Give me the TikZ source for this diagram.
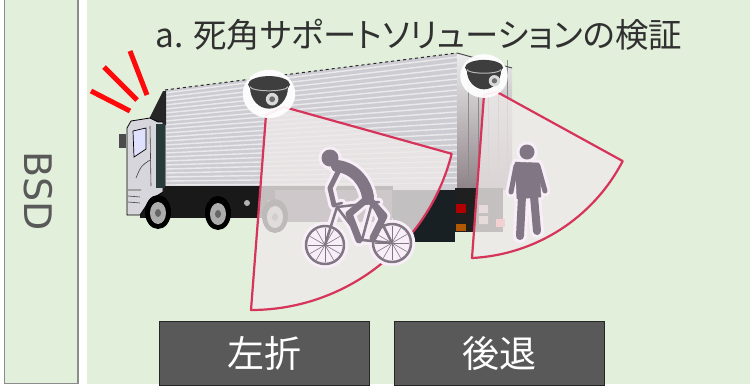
\documentclass[tikz,border=0pt]{standalone}
\usepackage{fontspec}
\newfontfamily\jpfont[RawFeature=+palt]{Noto Sans CJK JP}
\newfontfamily\jpplain{Noto Sans CJK JP}
\newfontfamily\labelfont{DejaVu Sans}
\usetikzlibrary{calc}

\definecolor{panelgreen}{RGB}{226,239,218}
\definecolor{frameGray}{RGB}{140,140,140}
\definecolor{btnfill}{RGB}{89,89,89}
\definecolor{titlegray}{RGB}{48,48,48}
\definecolor{bsdgray}{RGB}{89,89,89}
\definecolor{fanred}{RGB}{214,52,90}
\definecolor{fanfill}{RGB}{238,233,233}
\definecolor{figgray}{RGB}{128,118,132}
\definecolor{halo}{RGB}{247,238,247}
\definecolor{alertred}{RGB}{255,10,10}
\definecolor{domegray}{RGB}{62,62,62}
\definecolor{boxgray}{RGB}{204,204,210}
\definecolor{cabgray}{RGB}{214,214,220}
\definecolor{darkteal}{RGB}{40,58,58}
\definecolor{tankcol}{RGB}{78,68,84}
\definecolor{rearlow}{RGB}{140,128,134}
\definecolor{lampblock}{RGB}{25,32,36}

% cyclist: #1 extra stroke width, #2 colour
\newcommand{\rider}[2]{%
  \pgfmathsetmacro{\rwA}{12+#1}%
  \pgfmathsetmacro{\rwB}{5+#1}%
  \pgfmathsetmacro{\rwC}{7+#1}%
  \pgfmathsetmacro{\rwD}{2.5+#1}%
  \pgfmathsetmacro{\rhead}{8.5+#1/2}%
  \begin{scope}[color=#2, line cap=round, line join=round]
    \draw[line width=\rwD pt] (325,-245) circle[radius=19pt] (392,-243) circle[radius=19pt];
    \draw[line width=\rwD pt] (325,-245) -- (337,-207) -- (372,-203) -- (392,-243) -- (362,-240) -- (337,-207)
      (372,-203) -- (362,-240) (333,-205) -- (342,-203) (366,-202) -- (379,-202);
    \draw[line width=\rwA pt] (337,-166) .. controls (355,-168) and (366,-183) .. (368,-197);
    \draw[line width=\rwB pt] (339,-170) -- (330,-188) -- (334,-205);
    \draw[line width=\rwC pt] (368,-198) -- (349,-214) -- (359,-240);
    \draw[line width=\rwC pt] (368,-198) -- (384,-216) -- (373,-238);
    \fill (330,-158) circle[radius=\rhead pt];
  \end{scope}}

% pedestrian: #1 extra stroke width, #2 colour
\newcommand{\walker}[2]{%
  \pgfmathsetmacro{\pwA}{5+#1}%
  \pgfmathsetmacro{\pwB}{8+#1}%
  \pgfmathsetmacro{\pwC}{0.4+#1}%
  \pgfmathsetmacro{\phead}{7.5+#1/2}%
  \begin{scope}[color=#2, line cap=round, line join=round]
    \filldraw[line width=\pwC pt] (515,-162) -- (539,-163) -- (541,-197) -- (517,-199) -- cycle;
    \draw[line width=\pwA pt] (516,-166) -- (511,-192) (538,-166) -- (545,-191);
    \draw[line width=\pwB pt] (522,-196) -- (520,-236) (534,-196) -- (537,-231);
    \fill (527,-152) circle[radius=\phead pt];
  \end{scope}}

% dome camera: #1 x, #2 y, #3 scale, #4 lens offset
\newcommand{\domecam}[4]{%
  \begin{scope}[shift={(#1,#2)}, scale=#3]
    \fill[white, opacity=0.92] (0,1) ellipse[x radius=25pt, y radius=23pt];
    \fill[domegray] (-18,7) arc[start angle=180, end angle=360, x radius=18pt, y radius=20pt] -- cycle;
    \fill[domegray] (0,10) ellipse[x radius=20pt, y radius=8pt];
    \draw[gray!55, line width=1pt] (-18,8) arc[start angle=180, end angle=360, x radius=18pt, y radius=4pt];
    \fill[gray!30] (#4,-4) circle[radius=6pt];
    \fill[domegray!75] (#4,-4) circle[radius=2.8pt];
  \end{scope}}

\begin{document}
\begin{tikzpicture}[x=1pt, y=1pt,
  fan/.style={draw=fanred, line width=2.2pt, line join=round, fill=fanfill, fill opacity=0.8},
  alert/.style={alertred, line width=5pt},
  btn/.style={draw=black!85, line width=0.8pt, fill=btnfill, text=white,
    minimum width=210pt, minimum height=64pt, inner sep=0pt,
    font=\jpplain\fontsize{37}{40}\selectfont}]
\useasboundingbox (0,0) rectangle (750,-386);
\fill[white] (0,0) rectangle (750,-386);

% side label panel and main panel
\draw[frameGray, line width=1.5pt, fill=panelgreen] (4.5,3) rectangle (78,-383.5);
\fill[panelgreen] (87,0) rectangle (750,-384);

% alert strokes near the cab
\draw[alert] (91,-91) -- (130,-111);
\draw[alert] (104,-67) -- (137,-100);
\draw[alert] (130,-51) -- (147,-95);

% truck: cargo box side
\fill[boxgray] (165,-90) -- (457,-53) -- (457,-190) -- (165,-190) -- cycle;
\begin{scope}
  \clip (165,-90) -- (457,-53) -- (457,-190) -- (165,-190) -- cycle;
  \foreach \t in {0.03,0.07,...,0.99}
    \draw[white, opacity=0.6, line width=1.4pt] ($(165,-90)!\t!(165,-190)$) -- ($(457,-53)!\t!(457,-190)$);
\end{scope}
\draw[black!85, dashed, line width=1pt] (165,-90) -- (457,-53);
\draw[black!50, line width=0.6pt] (165,-90) -- (165,-190);

% cargo box rear face
\shade[top color=white!86!gray, middle color=white!94!gray, bottom color=rearlow]
  (457,-53) -- (512,-68) -- (512,-190) -- (457,-192) -- cycle;
\foreach \x in {468,478,488,498,507}
  \draw[black!45, line width=0.8pt] (\x,-60) -- (\x,-188);
\draw[black!70, line width=1pt] (457,-53) -- (512,-68);

% chassis, tank and rear bumper
\fill[black!90] (140,-186) rectangle (393,-218);
\fill[tankcol] (275,-190) rectangle (392,-222);
\fill[gray!60] (247,-203) circle[radius=3pt] (270,-203) circle[radius=3pt];
\fill[lampblock] (393,-190) rectangle (455,-242);
\fill[black!88] (455,-188) rectangle (503,-232);
\fill[red!70!black] (456,-204) rectangle (466,-213);
\fill[orange!70!black] (456,-224) rectangle (466,-231);
\fill[pink!55!gray] (479,-205) rectangle (488,-213) (479,-216) rectangle (488,-224);
\fill[red!55] (496,-219) rectangle (505,-227);

% cab
\fill[black!85] (148,-121) -- (163,-91) -- (166,-91) -- (166,-125) -- cycle;
\filldraw[fill=cabgray, draw=black, line width=0.8pt]
  (127,-128) -- (131,-121) -- (150,-118) -- (158,-122) -- (163,-122) -- (163,-192)
  -- (150,-200) -- (140,-215) -- (127,-215) -- cycle;
\fill[darkteal] (156,-124) rectangle (165,-188);
\filldraw[fill=white!88!blue, draw=black, line width=0.7pt] (133,-131) -- (146,-128) -- (146,-149) -- (134,-157) -- cycle;
\fill[black!70] (119,-134) rectangle (126,-148);
\draw[black!75, line width=0.6pt] (150,-126) -- (151,-186) (128,-190) -- (141,-190)
  (128,-196) -- (140,-197) (128,-202) -- (140,-203) (136,-178) .. controls (141,-166) .. (150,-160);

% wheels
\foreach \wx/\wy in {158/-212, 218/-213, 275/-216}{
  \fill[black] (\wx,\wy) ellipse[x radius=13pt, y radius=17pt];
  \fill[gray!65] (\wx,\wy-1) ellipse[x radius=8pt, y radius=11pt];
  \fill[black!60] (\wx,\wy-1) ellipse[x radius=3pt, y radius=4pt];
}

% camera coverage fans
\path[fan] (266,-115) -- (251,-310) arc[start angle=-90, end angle=-14.2, radius=207pt] -- (284,-107) -- cycle;
\path[fan] (484,-95) -- (472,-258) arc[start angle=-87.1, end angle=-27.4, radius=180pt] -- (497,-92) -- cycle;

% cyclist with glow
\rider{6}{halo}
\fill[halo] (325,-245) circle[radius=19pt] (392,-243) circle[radius=19pt];
\rider{0}{figgray}
\foreach \a in {0,30,...,150}{
  \draw[figgray, line width=0.6pt] ($(325,-245)+(\a:17pt)$) -- ($(325,-245)+(\a+180:17pt)$);
  \draw[figgray, line width=0.6pt] ($(392,-243)+(\a:17pt)$) -- ($(392,-243)+(\a+180:17pt)$);
}

% pedestrian with glow
\walker{6}{halo}
\walker{0}{figgray}

% dome cameras
\domecam{269}{-95}{1.05}{3}
\domecam{484}{-77}{0.95}{11}

% texts
\node[anchor=base west, inner sep=0pt, text=titlegray, font=\jpfont\fontsize{33.4}{40}\selectfont]
  (title) at (155,-47) {a. 死角サポートソリューションの検証};
\node[rotate=-90, inner sep=0pt, text=bsdgray, font=\labelfont\fontsize{38}{44}\selectfont]
  (bsd) at (38,-191) {BSD};
\node[btn] (turn) at (264,-353) {左折};
\node[btn] (reverse) at (499,-353) {後退};
\end{tikzpicture}
\end{document}
